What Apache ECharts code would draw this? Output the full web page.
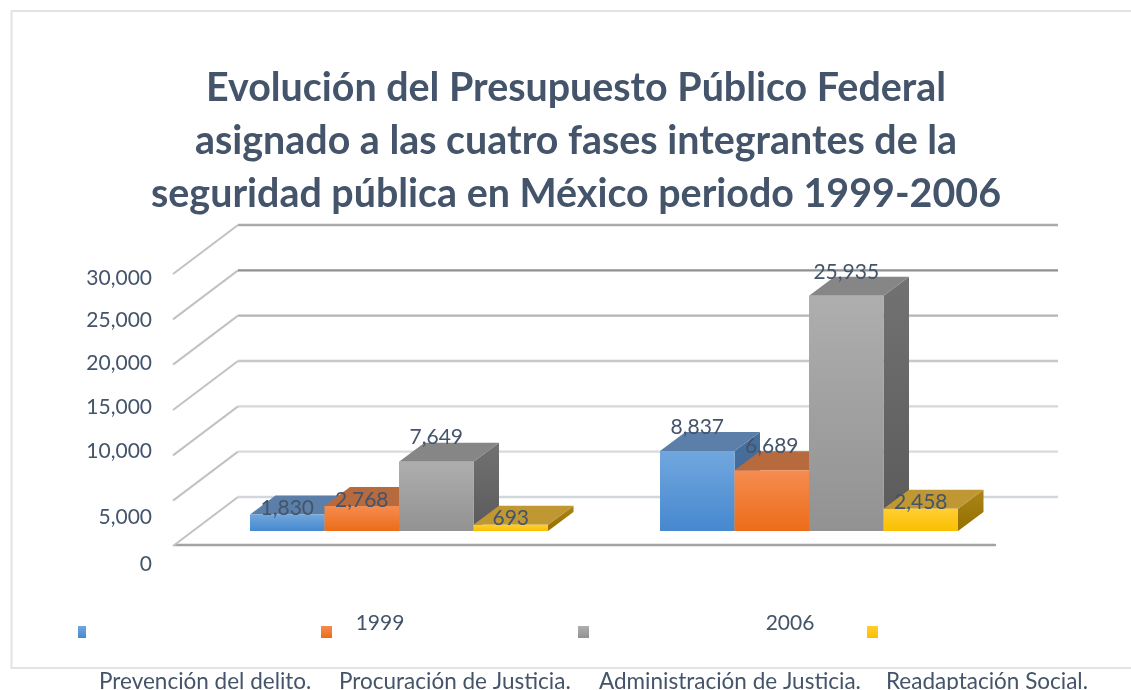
<!DOCTYPE html>
<html>
<head>
<meta charset="utf-8">
<style>html,body{margin:0;padding:0;background:#fff}#c{width:1131px;height:690px}</style>
<script src="https://cdn.jsdelivr.net/npm/echarts@6/dist/echarts.min.js"></script>
</head>
<body>
<div id="c"></div>
<script>
const titleText = 'Evolución del Presupuesto Público Federal\nasignado a las cuatro fases integrantes de la\nseguridad pública en México periodo 1999-2006';
const years = ['1999', '2006'];
const seriesNames = ['Prevención del delito.', 'Procuración de Justicia.', 'Administración de Justicia.', 'Readaptación Social.'];
const prevencion = [1830, 8837];
const procuracion = [2768, 6689];
const administracion = [7649, 25935];
const readaptacion = [693, 2458];
const yTicks = [0, 5000, 10000, 15000, 20000, 25000, 30000];

const seriesValues = [prevencion, procuracion, administracion, readaptacion];
const FONT = 'Lato, "Noto Sans", sans-serif';
const INK = '#44546a';
// depth of the "3D" box, and offsets in the picture
const BAR_SHIFT = [19, -14], DEPTH = [25.5, -19], WALL = [63, -48];
const palettes = [
  {front: ['#71a7de', '#4688cf'], top: '#5b7fa8', side: ['#48709f', '#3d6490']},
  {front: ['#f58c50', '#ec6c18'], top: '#b76a3e', side: ['#a85f30', '#96521f']},
  {front: ['#aeaeae', '#929292'], top: '#868686', side: ['#727272', '#5a5a5a']},
  {front: ['#ffcf33', '#fabf00'], top: '#bf9733', side: ['#ab8518', '#947000']}
];
const wallColors = {0: '#d3d6da', 5000: '#d8dade', 10000: '#d3d6da', 15000: '#c6c8ca', 20000: '#b4b4b4', 25000: '#8f9094', 30000: '#aaaaaa'};
const labelNudge = {0: 19, 5000: 18, 10000: -3, 15000: -2, 20000: 0, 25000: 2, 30000: 5};
const legendSpots = [
  {left: 73, w: 8, pad: 8},
  {left: 316, w: 11, pad: 2},
  {left: 573, w: 11, pad: 5},
  {left: 862, w: 11, pad: 3}
];

const grad = (a, b) => ({type: 'linear', x: 0, y: 0, x2: 0, y2: 1, colorStops: [{offset: 0, color: a}, {offset: 1, color: b}]});

function barGeom(params, api, idx) {
  const cat = api.value(0), val = api.value(1);
  const topP = api.coord([cat, val]), baseP = api.coord([cat, 0]);
  const w = api.size([1, 0])[0] * 0.1817;
  const x = baseP[0] - 2 * w + idx * w + BAR_SHIFT[0];
  return {x, w, y0: baseP[1] + BAR_SHIFT[1], y1: topP[1] + BAR_SHIFT[1], val};
}

function boxRenderer(idx) {
  const pal = palettes[idx];
  return function (params, api) {
    const g = barGeom(params, api, idx);
    const dx = DEPTH[0], dy = DEPTH[1];
    return {
      type: 'group',
      children: [
        {type: 'polygon', shape: {points: [[g.x + g.w, g.y1], [g.x + g.w + dx, g.y1 + dy], [g.x + g.w + dx, g.y0 + dy], [g.x + g.w, g.y0]]},
          style: {fill: grad(pal.side[0], pal.side[1])}},
        {type: 'polygon', shape: {points: [[g.x, g.y1], [g.x + dx, g.y1 + dy], [g.x + g.w + dx, g.y1 + dy], [g.x + g.w, g.y1]]},
          style: {fill: pal.top}},
        {type: 'rect', shape: {x: g.x, y: g.y1, width: g.w, height: g.y0 - g.y1},
          style: {fill: grad(pal.front[0], pal.front[1])}}
      ]
    };
  };
}

function labelRenderer(idx) {
  return function (params, api) {
    const g = barGeom(params, api, idx);
    const lift = g.val < 3000 ? 6 : 24;
    return {
      type: 'text',
      style: {
        x: g.x + g.w / 2, y: g.y1 - lift,
        text: g.val.toLocaleString('en-US'),
        fill: INK, font: '21px ' + FONT, align: 'center', verticalAlign: 'middle'
      }
    };
  };
}

function wallRenderer(params, api) {
  const tick = api.value(1);
  const p = api.coord([0, tick]);
  const left = params.coordSys.x, right = left + params.coordSys.width;
  const color = wallColors[tick];
  const y = p[1];
  return {
    type: 'group',
    children: [
      {type: 'line', shape: {x1: left - 2, y1: y + 1, x2: left + WALL[0], y2: y + WALL[1]}, style: {stroke: '#c2c2c2', lineWidth: 2}},
      {type: 'line', shape: {x1: left + WALL[0], y1: y + WALL[1], x2: right + WALL[0], y2: y + WALL[1]}, style: {stroke: color, lineWidth: 2.4}}
    ]
  };
}

const richTicks = {};
yTicks.forEach(t => {
  const n = labelNudge[t];
  richTicks['t' + t] = {
    fontFamily: FONT, fontSize: 21, color: INK,
    padding: [n > 0 ? 2 * n : 0, 0, n < 0 ? -2 * n : 0, 0]
  };
});

const series = [{
  type: 'custom', coordinateSystem: 'cartesian2d', silent: true, z: 1,
  data: yTicks.map(t => [0, t]),
  encode: {x: 0, y: 1},
  renderItem: wallRenderer, animation: false
}];
seriesNames.forEach((name, i) => {
  series.push({
    name, type: 'custom', coordinateSystem: 'cartesian2d', z: 2 + i,
    data: seriesValues[i].map((v, c) => [c, v]),
    encode: {x: 0, y: 1},
    renderItem: boxRenderer(i), animation: false,
    itemStyle: {color: palettes[i].front[1]}
  });
});
seriesNames.forEach((name, i) => {
  series.push({
    type: 'custom', coordinateSystem: 'cartesian2d', silent: true, z: 10,
    data: seriesValues[i].map((v, c) => [c, v]),
    encode: {x: 0, y: 1},
    renderItem: labelRenderer(i), animation: false
  });
});

const chart = echarts.init(document.getElementById('c'), null, {renderer: 'canvas'});
chart.setOption({
  animation: false,
  backgroundColor: '#fff',
  title: {
    text: titleText, left: 571, top: 57, textAlign: 'center',
    textStyle: {fontFamily: FONT, fontWeight: 'bold', fontSize: 39.4, lineHeight: 53, color: INK}
  },
  graphic: [{
    type: 'rect', z: -1, silent: true,
    shape: {x: 11.5, y: 11, width: 1140, height: 657},
    style: {fill: 'none', stroke: '#e0e3e8', lineWidth: 2}
  }],
  grid: {left: 175, right: 136, top: 273, bottom: 145},
  xAxis: {
    type: 'category', data: years,
    axisLine: {show: true, lineStyle: {color: '#a3a3a3', width: 2.4}},
    axisTick: {show: false},
    axisLabel: {margin: 68, fontFamily: FONT, fontSize: 21, color: INK}
  },
  yAxis: {
    type: 'value', min: 0, max: 30000, interval: 5000,
    axisLine: {show: false}, axisTick: {show: false}, splitLine: {show: false},
    axisLabel: {
      margin: 23,
      formatter: v => '{t' + v + '|' + v.toLocaleString('en-US') + '}',
      rich: richTicks
    }
  },
  legend: seriesNames.map((name, i) => ({
    data: [{name, itemStyle: {color: grad(palettes[i].front[0], palettes[i].front[1])}}],
    left: legendSpots[i].left, top: 621,
    icon: 'rect', itemWidth: legendSpots[i].w, itemHeight: 12, itemGap: 0,
    selectedMode: false,
    formatter: n => '{a|' + n + '}',
    textStyle: {
      rich: {a: {fontFamily: FONT, fontSize: 22.5, color: INK, padding: [100, 0, 0, legendSpots[i].pad]}}
    }
  })),
  series
});
</script>
</body>
</html>
